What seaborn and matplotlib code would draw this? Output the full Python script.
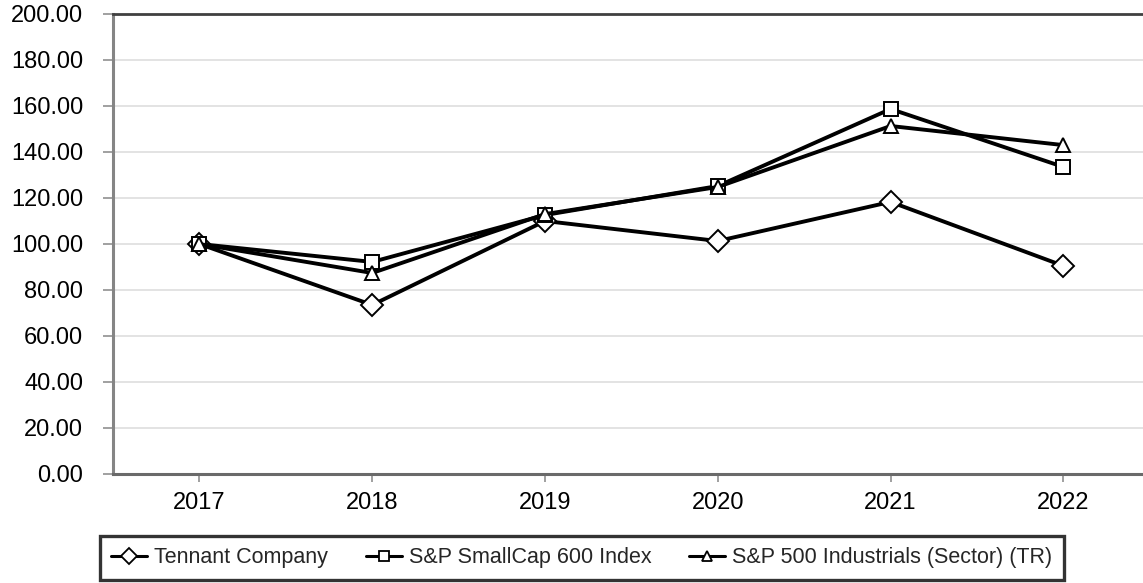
import matplotlib
matplotlib.use("Agg")
import matplotlib.pyplot as plt
import seaborn as sns
import pandas as pd
from matplotlib.ticker import FormatStrFormatter, FixedLocator
from matplotlib.lines import Line2D

years = [2017, 2018, 2019, 2020, 2021, 2022]
tennant = [100.0, 73.5, 110.0, 101.3, 118.3, 90.5]
smallcap = [100.0, 92.2, 112.6, 125.2, 158.7, 133.5]
industrials = [100.0, 87.4, 113.0, 124.8, 151.3, 143.0]

series_names = ["Tennant Company", "S&P SmallCap 600 Index", "S&P 500 Industrials (Sector) (TR)"]
series_values = [tennant, smallcap, industrials]
series_markers = ["D", "s", "^"]
marker_sizes = [11, 9.5, 10]
legend_marker_sizes = [8.5, 7, 7.5]

frames = []
for name, vals in zip(series_names, series_values):
    frames.append(pd.DataFrame({"year": years, "value": vals, "series": name}))
df = pd.concat(frames, ignore_index=True)

sns.set_theme(style="white")
plt.rcParams["font.family"] = ["Liberation Sans", "DejaVu Sans"]

fig = plt.figure(figsize=(11.43, 5.83), dpi=100)
ax = fig.add_axes([113 / 1143, 1 - 474 / 583, 1 - 113 / 1143, (474 - 14) / 583])

handles = []
for name, mk, ms, lms in zip(series_names, series_markers, marker_sizes, legend_marker_sizes):
    sub = df[df["series"] == name]
    sns.lineplot(data=sub, x="year", y="value", ax=ax, color="black",
                 linewidth=2.8, marker=mk, markersize=ms,
                 markerfacecolor="white", markeredgecolor="black",
                 markeredgewidth=1.4, legend=False, zorder=3)
    handles.append(Line2D([0], [0], color="black", linewidth=2.2, marker=mk,
                          markersize=lms, markerfacecolor="white",
                          markeredgecolor="black", markeredgewidth=1.3))

ax.set_xlim(2016.5, 2016.5 + (1143 - 113) / 172.8)
ax.set_ylim(0, 200)
ax.yaxis.set_major_locator(FixedLocator([0, 20, 40, 60, 80, 100, 120, 140, 160, 180, 200]))
ax.yaxis.set_major_formatter(FormatStrFormatter("%.2f"))
ax.xaxis.set_major_locator(FixedLocator(years))
ax.xaxis.set_major_formatter(FormatStrFormatter("%d"))
ax.set_xlabel("")
ax.set_ylabel("")

ax.grid(axis="y", color="#e3e3e3", linewidth=1.4, zorder=0)
ax.set_axisbelow(True)

ax.spines["right"].set_visible(False)
ax.spines["top"].set_color("#404040")
ax.spines["top"].set_linewidth(2.0)
ax.spines["left"].set_color("#858585")
ax.spines["left"].set_linewidth(2.2)
ax.spines["bottom"].set_color("#6a6a6a")
ax.spines["bottom"].set_linewidth(2.2)

ax.tick_params(axis="y", which="major", direction="out", length=7.5, width=1.4,
               color="#a0a0a0", labelsize=17, labelcolor="black", pad=14, left=True)
ax.tick_params(axis="x", which="major", direction="out", length=6, width=1.4,
               color="#a0a0a0", labelsize=17, labelcolor="black", pad=7, bottom=True)

leg = fig.legend(handles, series_names, loc="center", bbox_to_anchor=(582 / 1143, 1 - 558 / 583),
                 ncol=3, fontsize=15.5, frameon=True, fancybox=False,
                 handlelength=1.65, handletextpad=0.35, columnspacing=1.75,
                 borderpad=0.55, borderaxespad=0)
frame = leg.get_frame()
frame.set_edgecolor("black")
frame.set_linewidth(2.4)
frame.set_facecolor("white")

fig.savefig("out.png", dpi=100)
